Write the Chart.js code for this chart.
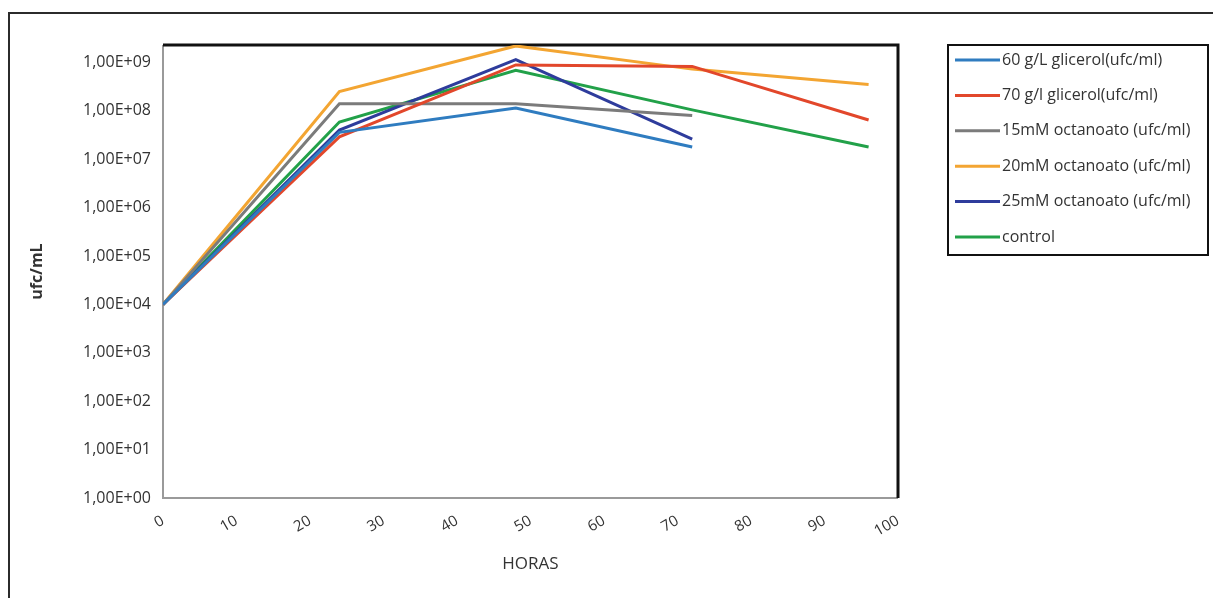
<!DOCTYPE html>
<html>
<head>
<meta charset="utf-8">
<script src="https://cdn.jsdelivr.net/npm/chart.js@4/dist/chart.umd.min.js"></script>
<style>
  html, body { margin: 0; padding: 0; background: #fff; }
  #wrap { width: 1213px; height: 598px; position: relative; }
</style>
</head>
<body>
<div id="wrap"><canvas id="growthChart"></canvas></div>
<script>
// data
const horas = [0, 24, 48, 72, 96];
const xTicks = [0, 10, 20, 30, 40, 50, 60, 70, 80, 90, 100];
const yTicks = [1, 1e1, 1e2, 1e3, 1e4, 1e5, 1e6, 1e7, 1e8, 1e9];

const glicerol60 = [1e4, 3.6e7, 1.15e8, 1.8e7];
const glicerol70 = [1e4, 2.9e7, 8.9e8, 8.3e8, 6.5e7];
const octanoato15 = [1e4, 1.4e8, 1.4e8, 8e7];
const octanoato20 = [1e4, 2.5e8, 2.2e9, 7.3e8, 3.5e8];
const octanoato25 = [1e4, 4e7, 1.15e9, 2.6e7];
const control = [1e4, 5.9e7, 6.9e8, 1.05e8, 1.8e7];

const labels = [
  "60 g/L glicerol(ufc/ml)",
  "70 g/l glicerol(ufc/ml)",
  "15mM octanoato (ufc/ml)",
  "20mM octanoato (ufc/ml)",
  "25mM octanoato (ufc/ml)",
  "control",
];
const colors = ["#2f7cc0", "#e2472b", "#7b7b7b", "#f3a532", "#2e3c9c", "#22a149"];
const series = [glicerol60, glicerol70, octanoato15, octanoato20, octanoato25, control];

function toPoints(vals) {
  return vals.map((v, i) => ({ x: horas[i], y: v }));
}

// outer frame + plot frame (black top/right, gray left/bottom)
const framePlugin = {
  id: "frame",
  beforeDraw(chart) {
    const c = chart.ctx;
    c.save();
    c.fillStyle = "#fff";
    c.fillRect(0, 0, chart.width, chart.height);
    c.strokeStyle = "#2b2b2b";
    c.lineWidth = 2;
    c.beginPath();
    c.moveTo(9, chart.height);
    c.lineTo(9, 13);
    c.lineTo(chart.width, 13);
    c.stroke();
    c.restore();
  },
  beforeDatasetsDraw(chart) {
    const a = chart.chartArea;
    const c = chart.ctx;
    c.save();
    c.lineWidth = 2;
    c.strokeStyle = "#9a9a9a";
    c.beginPath();
    c.moveTo(a.left, a.top);
    c.lineTo(a.left, a.bottom);
    c.lineTo(a.right, a.bottom);
    c.stroke();
    c.lineWidth = 3;
    c.strokeStyle = "#111";
    c.beginPath();
    c.moveTo(a.left, a.top);
    c.lineTo(a.right, a.top);
    c.lineTo(a.right, a.bottom);
    c.stroke();
    c.restore();
  },
};

// legend in a box on the right
const legendBox = {
  id: "legendBox",
  afterDraw(chart) {
    const c = chart.ctx;
    const x0 = 948, y0 = 45, w = 260, h = 210;
    c.save();
    c.strokeStyle = "#111";
    c.lineWidth = 2;
    c.strokeRect(x0, y0, w, h);
    c.font = "16px 'Open Sans', 'DejaVu Sans', sans-serif";
    c.textBaseline = "middle";
    c.fillStyle = "#333";
    chart.data.datasets.forEach((ds, i) => {
      const y = 60 + i * 35.4;
      c.strokeStyle = ds.borderColor;
      c.lineWidth = 3;
      c.beginPath();
      c.moveTo(955, y);
      c.lineTo(1000, y);
      c.stroke();
      c.fillText(ds.label, 1002, y);
    });
    c.restore();
  },
};

const ctx = document.getElementById("growthChart").getContext("2d");

new Chart(ctx, {
  type: "line",
  data: {
    datasets: series.map((vals, i) => ({
      label: labels[i],
      data: toPoints(vals),
      borderColor: colors[i],
      backgroundColor: colors[i],
      borderWidth: 3,
      pointRadius: 0,
      tension: 0,
      fill: false,
    })),
  },
  options: {
    responsive: true,
    maintainAspectRatio: false,
    animation: false,
    layout: { padding: { left: 0, right: 315, top: 45, bottom: 0 } },
    plugins: {
      legend: { display: false },
      tooltip: { enabled: false },
    },
    scales: {
      x: {
        type: "linear",
        min: 0,
        max: 100,
        afterBuildTicks: (scale) => {
          scale.ticks = xTicks.map((v) => ({ value: v }));
        },
        afterFit: (scale) => {
          scale.height = 100;
        },
        grid: { display: false, drawTicks: false },
        border: { display: false },
        ticks: {
          minRotation: 30,
          maxRotation: 30,
          padding: 14,
          color: "#333",
          font: { size: 15, family: "'Open Sans', sans-serif" },
        },
        title: {
          display: true,
          text: "HORAS",
          color: "#333",
          font: { size: 17, family: "'Open Sans', sans-serif" },
          padding: { top: 0, bottom: 24 },
        },
      },
      y: {
        type: "logarithmic",
        min: 1,
        max: 2.3e9,
        afterBuildTicks: (scale) => {
          scale.ticks = yTicks.map((v) => ({ value: v }));
        },
        afterFit: (scale) => {
          scale.width = 163;
        },
        grid: { display: false, drawTicks: false },
        border: { display: false },
        ticks: {
          padding: 12,
          color: "#333",
          font: { size: 16, family: "'Open Sans', sans-serif" },
          callback: function (value) {
            const exp = Math.round(Math.log10(value));
            return "1,00E+" + String(exp).padStart(2, "0");
          },
        },
        title: {
          display: true,
          text: "ufc/mL",
          color: "#333",
          font: { size: 16, weight: "bold", family: "'Open Sans', sans-serif" },
          padding: { top: 28, bottom: 0 },
        },
      },
    },
  },
  plugins: [framePlugin, legendBox],
});
</script>
</body>
</html>
